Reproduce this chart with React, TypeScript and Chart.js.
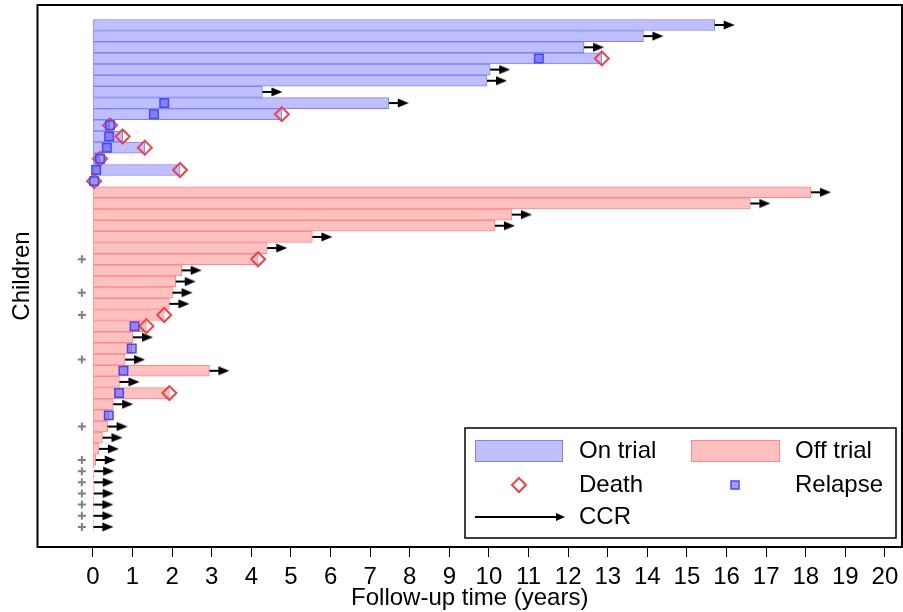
import React, { useEffect, useRef } from 'react';
import { Chart, registerables } from 'chart.js';

Chart.register(...registerables);

// Bar end (years) for each child, top to bottom
const ON_TRIAL_END = [15.7, 13.9, 12.4, 12.85, 10.03, 9.95, 4.28, 7.47, 4.77, 0.43, 0.75, 1.31, 0.18, 2.2, 0.03];
const OFF_TRIAL_END = [
  18.13, 16.6, 10.58, 10.15, 5.54, 4.4, 4.17, 2.24, 2.09, 2.01, 1.93, 1.8, 1.35, 1.01, 0.98, 0.81,
  2.94, 0.67, 1.93, 0.51, 0.4, 0.37, 0.24, 0.15, 0.07, 0.03, 0.02, 0.02, 0.01, 0.01, 0.01,
];
// Events (row index counted from the top, 0-based)
const DEATH_ROW = [3, 8, 9, 10, 11, 12, 13, 14, 21, 26, 27, 33];
const DEATH_TIME = [12.85, 4.77, 0.43, 0.75, 1.31, 0.18, 2.2, 0.03, 4.17, 1.8, 1.35, 1.93];
const RELAPSE_ROW = [3, 7, 8, 9, 10, 11, 12, 13, 14, 27, 29, 31, 33, 35];
const RELAPSE_TIME = [11.26, 1.8, 1.54, 0.43, 0.41, 0.35, 0.18, 0.08, 0.03, 1.05, 0.98, 0.77, 0.66, 0.4];
const CCR_ROW = [0, 1, 2, 4, 5, 6, 7, 15, 16, 17, 18, 19, 20, 22, 23, 24, 25, 28, 30, 31, 32, 34, 36, 37, 38, 39, 40, 41, 42, 43, 44, 45];
const PLUS_ROW = [21, 24, 26, 30, 36, 39, 40, 41, 42, 43, 44, 45];
const X_TICKS = [0, 1, 2, 3, 4, 5, 6, 7, 8, 9, 10, 11, 12, 13, 14, 15, 16, 17, 18, 19, 20];

const X_MIN = -1.4;
const X_MAX = 20.43;
const Y_MIN = -1.79;
const Y_MAX = 46.8;
const PLUS_X = -0.28;

const FONT = '"Liberation Sans", Arial, Helvetica, sans-serif';
const FONT_SIZE = 24;
const BLUE_FILL = 'rgb(191,191,255)';
const BLUE_LINE = 'rgb(128,128,255)';
const RED_FILL = 'rgb(255,192,192)';
const RED_LINE = 'rgb(255,136,136)';
const DEATH_COLOR = 'rgb(238,68,68)';
const RELAPSE_FILL = 'rgba(80,80,255,0.55)';
const RELAPSE_LINE = 'rgb(70,70,255)';

function makeArrow(): HTMLCanvasElement {
  const cv = document.createElement('canvas');
  cv.width = 42;
  cv.height = 12;
  const c = cv.getContext('2d')!;
  c.strokeStyle = '#000';
  c.lineWidth = 2;
  c.beginPath();
  c.moveTo(21, 6);
  c.lineTo(32, 6);
  c.stroke();
  c.fillStyle = '#000';
  c.beginPath();
  c.moveTo(30, 1.5);
  c.lineTo(41, 6);
  c.lineTo(30, 10.5);
  c.closePath();
  c.fill();
  return cv;
}

const framePlugin = {
  id: 'frameAndLegend',
  afterDraw(chart: any) {
    const { ctx, chartArea } = chart;
    const { left, top, right, bottom } = chartArea;
    ctx.save();
    ctx.strokeStyle = '#000';
    ctx.lineWidth = 2;
    ctx.strokeRect(left, top, right - left, bottom - top);

    // legend box
    const bw = 431;
    const bh = 110;
    const bx = right - 6 - bw;
    const by = bottom - 9 - bh;
    ctx.fillStyle = '#fff';
    ctx.fillRect(bx, by, bw, bh);
    ctx.lineWidth = 1.5;
    ctx.strokeStyle = '#000';
    ctx.strokeRect(bx, by, bw, bh);

    const r1 = by + 23;
    const r2 = by + 57;
    const r3 = by + 89;
    // patches
    ctx.lineWidth = 1;
    ctx.fillStyle = BLUE_FILL;
    ctx.strokeStyle = BLUE_LINE;
    ctx.fillRect(bx + 10, r1 - 11, 88, 22);
    ctx.strokeRect(bx + 10.5, r1 - 10.5, 87, 21);
    ctx.fillStyle = RED_FILL;
    ctx.strokeStyle = RED_LINE;
    ctx.fillRect(bx + 226, r1 - 11, 89, 22);
    ctx.strokeRect(bx + 226.5, r1 - 10.5, 88, 21);

    // death diamond
    const dx = bx + 54;
    ctx.strokeStyle = DEATH_COLOR;
    ctx.lineWidth = 2;
    ctx.beginPath();
    ctx.moveTo(dx, r2 - 7);
    ctx.lineTo(dx + 7, r2);
    ctx.lineTo(dx, r2 + 7);
    ctx.lineTo(dx - 7, r2);
    ctx.closePath();
    ctx.stroke();

    // relapse square
    const sx = bx + 270;
    ctx.fillStyle = RELAPSE_FILL;
    ctx.strokeStyle = RELAPSE_LINE;
    ctx.lineWidth = 1.5;
    ctx.fillRect(sx - 4, r2 - 4, 8, 8);
    ctx.strokeRect(sx - 4, r2 - 4, 8, 8);

    // CCR arrow
    ctx.strokeStyle = '#000';
    ctx.lineWidth = 2;
    ctx.beginPath();
    ctx.moveTo(bx + 10, r3);
    ctx.lineTo(bx + 94, r3);
    ctx.stroke();
    ctx.fillStyle = '#000';
    ctx.beginPath();
    ctx.moveTo(bx + 91, r3 - 4);
    ctx.lineTo(bx + 100, r3);
    ctx.lineTo(bx + 91, r3 + 4);
    ctx.closePath();
    ctx.fill();

    // texts
    ctx.fillStyle = '#000';
    ctx.font = `${FONT_SIZE}px ${FONT}`;
    ctx.textBaseline = 'middle';
    ctx.textAlign = 'left';
    ctx.fillText('On trial', bx + 114, r1);
    ctx.fillText('Off trial', bx + 330, r1);
    ctx.fillText('Death', bx + 114, r2);
    ctx.fillText('Relapse', bx + 330, r2);
    ctx.fillText('CCR', bx + 114, r3);
    ctx.restore();
  },
};

export default function App() {
  const ref = useRef<HTMLCanvasElement | null>(null);

  useEffect(() => {
    if (!ref.current) return;
    const nOn = ON_TRIAL_END.length;
    const END = [...ON_TRIAL_END, ...OFF_TRIAL_END];
    const arrow = makeArrow();

    const chart = new Chart(ref.current, {
      type: 'bar',
      data: {
        datasets: [
          {
            type: 'line',
            label: 'Relapse',
            data: RELAPSE_ROW.map((r, i) => ({ x: RELAPSE_TIME[i], y: r })),
            showLine: false,
            pointStyle: 'rect',
            pointRadius: 6,
            pointBackgroundColor: RELAPSE_FILL,
            pointBorderColor: RELAPSE_LINE,
            pointBorderWidth: 1.5,
            order: 1,
          } as any,
          {
            type: 'line',
            label: 'Death',
            data: DEATH_ROW.map((r, i) => ({ x: DEATH_TIME[i], y: r })),
            showLine: false,
            pointStyle: 'rectRot',
            pointRadius: 7,
            pointBackgroundColor: 'rgba(0,0,0,0)',
            pointBorderColor: DEATH_COLOR,
            pointBorderWidth: 2,
            order: 2,
          } as any,
          {
            type: 'line',
            label: 'CCR',
            data: CCR_ROW.map((r) => ({ x: END[r], y: r })),
            showLine: false,
            pointStyle: arrow,
            pointRadius: 6,
            order: 3,
          } as any,
          {
            type: 'line',
            label: 'Plus',
            data: PLUS_ROW.map((r) => ({ x: PLUS_X, y: r })),
            showLine: false,
            pointStyle: 'cross',
            pointRadius: 4,
            pointBorderColor: 'rgb(128,128,128)',
            pointBorderWidth: 2,
            order: 4,
          } as any,
          {
            type: 'bar',
            label: 'On trial',
            indexAxis: 'y',
            grouped: false,
            data: ON_TRIAL_END.map((e, i) => ({ x: [0, e], y: i })),
            backgroundColor: BLUE_FILL,
            borderColor: BLUE_LINE,
            borderWidth: 1,
            borderSkipped: false,
            barThickness: 11,
            order: 5,
          } as any,
          {
            type: 'bar',
            label: 'Off trial',
            indexAxis: 'y',
            grouped: false,
            data: OFF_TRIAL_END.map((e, i) => ({ x: [0, e], y: i + nOn })),
            backgroundColor: RED_FILL,
            borderColor: RED_LINE,
            borderWidth: 1,
            borderSkipped: false,
            barThickness: 11,
            order: 6,
          } as any,
        ],
      },
      options: {
        responsive: false,
        animation: false,
        devicePixelRatio: 1,
        layout: { autoPadding: false, padding: { left: 6.5, top: 5, right: 1, bottom: 1.5 } },
        plugins: { legend: { display: false }, tooltip: { enabled: false } },
        scales: {
          x: {
            type: 'linear',
            offset: false,
            min: X_MIN,
            max: X_MAX,
            afterBuildTicks: (scale: any) => {
              scale.ticks = X_TICKS.map((v) => ({ value: v }));
            },
            afterFit: (scale: any) => {
              scale.paddingLeft = 0;
              scale.paddingRight = 0;
              scale.paddingTop = 0;
              scale.paddingBottom = 0;
              scale.height = 63.5;
            },
            grid: {
              display: true,
              offset: false,
              drawOnChartArea: false,
              drawTicks: true,
              tickLength: 10,
              color: '#000',
              lineWidth: 1,
            },
            border: { display: false },
            ticks: {
              color: '#000',
              padding: 8,
              maxRotation: 0,
              autoSkip: false,
              font: { family: FONT, size: FONT_SIZE, lineHeight: 1 },
            },
            title: {
              display: true,
              text: 'Follow-up time (years)',
              color: '#000',
              padding: 0,
              font: { family: FONT, size: FONT_SIZE, lineHeight: 1 },
            },
          },
          y: {
            type: 'linear',
            offset: false,
            reverse: true,
            min: Y_MIN,
            max: Y_MAX,
            afterBuildTicks: (scale: any) => {
              scale.ticks = [];
            },
            afterFit: (scale: any) => {
              scale.paddingLeft = 0;
              scale.paddingRight = 0;
              scale.paddingTop = 0;
              scale.paddingBottom = 0;
              scale.width = 31;
            },
            grid: { display: false, offset: false, drawTicks: false, tickLength: 0 },
            border: { display: false },
            ticks: { display: false, padding: 0 },
            title: {
              display: true,
              text: 'Children',
              color: '#000',
              padding: { top: 4, bottom: 4 },
              font: { family: FONT, size: FONT_SIZE, lineHeight: 1 },
            },
          },
        },
      } as any,
      plugins: [framePlugin],
    });
    return () => chart.destroy();
  }, []);

  return (
    <div style={{ position: 'absolute', left: 0, top: 0, width: 903, height: 612, background: '#fff' }}>
      <canvas ref={ref} width={903} height={612} style={{ display: 'block' }} />
    </div>
  );
}
